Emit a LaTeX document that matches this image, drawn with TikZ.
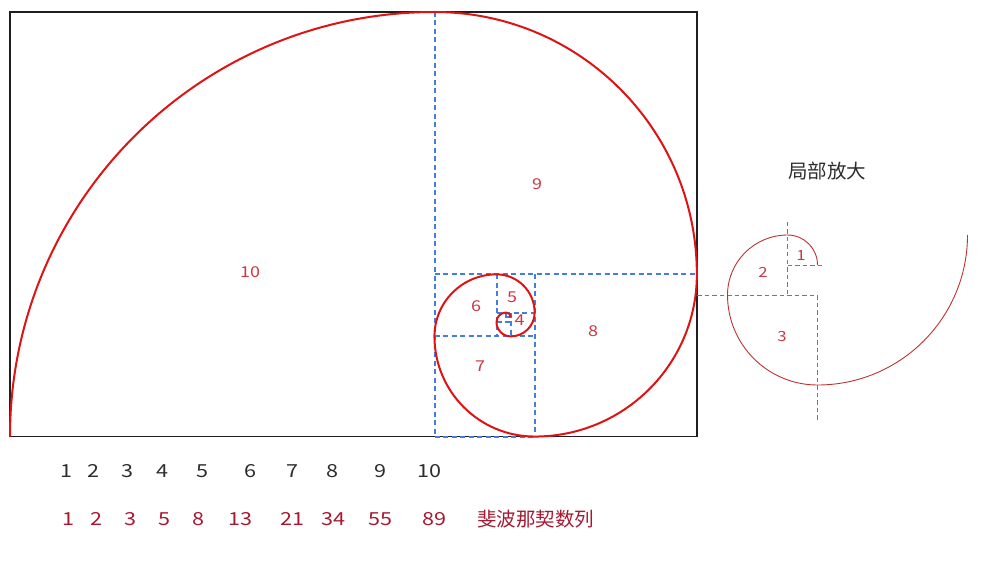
\documentclass[tikz,border=0pt]{standalone}
\usepackage{fontspec}
\setmainfont{Noto Sans CJK SC}
\newfontfamily\digitfont[FakeStretch=1.2]{Noto Sans CJK SC}
\definecolor{spiralred}{RGB}{222,20,20}
\definecolor{zoomred}{RGB}{190,50,50}
\definecolor{labred}{RGB}{205,55,65}
\definecolor{seqred}{RGB}{165,25,50}
\definecolor{guideblue}{RGB}{70,125,220}
\definecolor{txtgray}{RGB}{45,45,45}
\begin{document}
\begin{tikzpicture}[x=1pt,y=-1pt,
  frame/.style={draw=black!88,line width=1.9pt},
  spiral/.style={draw=spiralred,line width=2pt},
  zspiral/.style={draw=zoomred,line width=0.9pt},
  guide/.style={draw=guideblue,line width=2pt,dash pattern=on 5pt off 3.5pt},
  zguide/.style={draw=guideblue,line width=0.9pt,dash pattern=on 4.5pt off 3pt},
  lab/.style={text=labred,font=\digitfont\fontsize{15}{17}\selectfont,inner sep=0pt},
  zlab/.style={text=labred,font=\digitfont\fontsize{14}{16}\selectfont,inner sep=0pt},
  idx/.style={text=txtgray,font=\digitfont\fontsize{18}{20}\selectfont,inner sep=0pt},
  seq/.style={text=seqred,font=\digitfont\fontsize{18}{20}\selectfont,inner sep=0pt},
  seqname/.style={text=seqred,font=\fontsize{19.5}{22}\selectfont,inner sep=0pt},
  ttl/.style={text=txtgray,font=\fontsize{19.5}{22}\selectfont,inner sep=0pt}]
\useasboundingbox (0,0) rectangle (987,561);

% main golden rectangle
\draw[frame] (10,12) rectangle (696.9,436.5);

% square guides
\draw[guide] (434.5,12) -- (434.5,436.5);
\draw[guide] (434.5,274.35) -- (696.9,274.35);
\draw[guide] (534.7,274.35) -- (534.7,436.5);
\draw[guide] (434.5,436.5) -- (534.7,436.5);
\draw[guide] (434.5,336.4) -- (534.7,336.4);
\draw[guide] (496.5,274.35) -- (496.5,336.4);
\draw[guide] (496.5,312.5) -- (534.7,312.5);
\draw[guide] (510.9,312.5) -- (510.9,336.4);
\draw[guide] (496.5,322.05) -- (510.9,322.05);
\draw[guide] (506.1,312.5) -- (506.1,322.05);
\draw[guide] (506.1,317.3) -- (510.9,317.3);

% spiral
\draw[spiral] (10,436.5)
  arc[start angle=180,end angle=90,radius=424.5pt]
  arc[start angle=90,end angle=0,radius=262.35pt]
  arc[start angle=0,end angle=-90,radius=162.2pt]
  arc[start angle=-90,end angle=-180,radius=100.2pt]
  arc[start angle=180,end angle=90,radius=62pt]
  arc[start angle=90,end angle=0,radius=38.2pt]
  arc[start angle=0,end angle=-90,radius=23.85pt]
  arc[start angle=-90,end angle=-180,radius=14.3pt]
  arc[start angle=180,end angle=90,radius=9.54pt]
  arc[start angle=90,end angle=0,radius=4.77pt];

% square labels
\node[lab] (s10) at (250,272) {10};
\node[lab] (s9) at (537,184) {9};
\node[lab] (s8) at (593,331) {8};
\node[lab] (s7) at (480,366) {7};
\node[lab] (s6) at (476,306) {6};
\node[lab] (s5) at (512,297) {5};
\node[lab] (s4) at (519.5,320.5) {4};

% enlarged detail
\node[ttl] (title) at (827,171) {局部放大};
\draw[zguide] (787.5,222) -- (787.5,295);
\draw[zguide] (787.5,265) -- (825,265);
\draw[zguide] (697,295) -- (817.5,295);
\draw[zguide] (817.5,295) -- (817.5,420);
\draw[zspiral] (817.5,265)
  arc[start angle=0,end angle=90,radius=30pt]
  arc[start angle=90,end angle=180,radius=60pt]
  arc[start angle=180,end angle=270,radius=90pt]
  arc[start angle=270,end angle=360,radius=150pt];
\node[zlab] (z1) at (801,256) {1};
\node[zlab] (z2) at (763,272) {2};
\node[zlab] (z3) at (782,337) {3};

% index row
\node[idx] (i1) at (66.5,470.7) {1};
\node[idx] (i2) at (93.8,470.7) {2};
\node[idx] (i3) at (127.5,470.7) {3};
\node[idx] (i4) at (162,470.7) {4};
\node[idx] (i5) at (202.5,470.7) {5};
\node[idx] (i6) at (250.4,470.7) {6};
\node[idx] (i7) at (292,470.7) {7};
\node[idx] (i8) at (332.8,470.7) {8};
\node[idx] (i9) at (380.5,470.7) {9};
\node[idx] (i10) at (429.5,470.7) {10};

% fibonacci row
\node[seq] (f1) at (68.5,518.7) {1};
\node[seq] (f2) at (96.5,518.7) {2};
\node[seq] (f3) at (130.5,518.7) {3};
\node[seq] (f5) at (164.5,518.7) {5};
\node[seq] (f8) at (198.8,518.7) {8};
\node[seq] (f13) at (240,518.7) {13};
\node[seq] (f21) at (292,518.7) {21};
\node[seq] (f34) at (333.5,518.7) {34};
\node[seq] (f55) at (380,518.7) {55};
\node[seq] (f89) at (434.4,518.7) {89};
\node[seqname] (fname) at (535.5,518.7) {斐波那契数列};
\end{tikzpicture}
\end{document}
